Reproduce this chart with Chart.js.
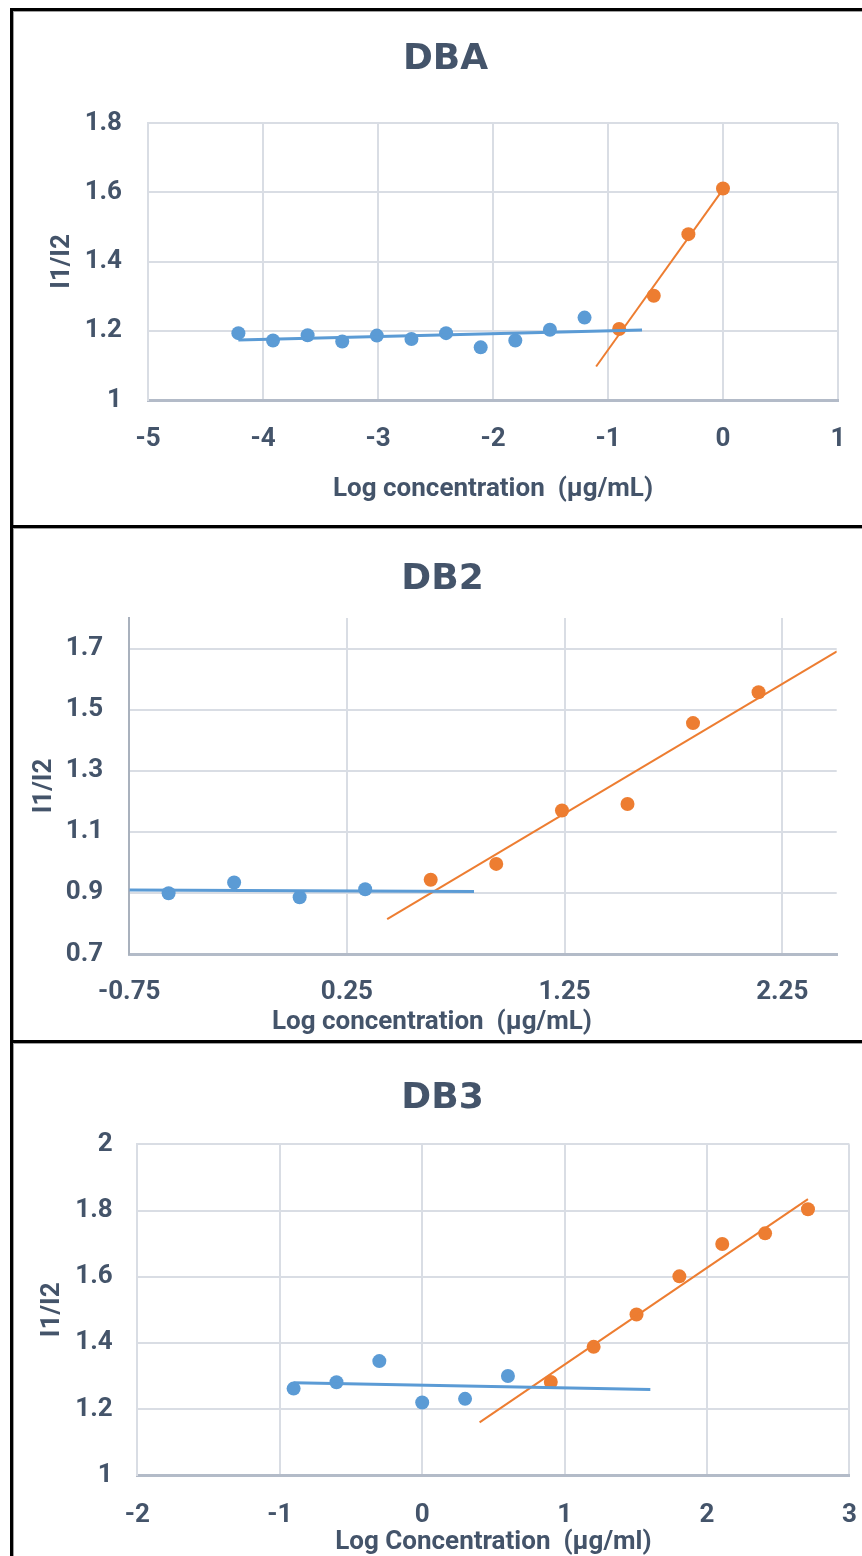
<!DOCTYPE html>
<html>
<head>
<meta charset="utf-8">
<title>Pyrene I1/I2 ratio vs log concentration</title>
<script src="https://cdn.jsdelivr.net/npm/chart.js@4/dist/chart.umd.min.js"></script>
<style>
  html, body { margin: 0; padding: 0; background: #fff; overflow: hidden; }
  body { width: 862px; height: 1556px; position: relative; }
  canvas { position: absolute; }
  .rule { position: absolute; background: #000; z-index: 2; }
  .shade { position: absolute; background: #a0a0a0; z-index: 1; }
</style>
</head>
<body>
<canvas id="dba"></canvas>
<canvas id="db2"></canvas>
<canvas id="db3"></canvas>

<!-- panel frame -->
<div class="rule"  style="left:10px; top:8px;    width:852px; height:3px"></div>
<div class="shade" style="left:12px; top:11px;   width:850px; height:1px"></div>
<div class="rule"  style="left:10px; top:525px;  width:852px; height:3px"></div>
<div class="shade" style="left:12px; top:528px;  width:850px; height:1px"></div>
<div class="rule"  style="left:10px; top:1040px; width:852px; height:3px"></div>
<div class="shade" style="left:12px; top:1043px; width:850px; height:1px"></div>
<div class="rule"  style="left:10px; top:8px;    width:3px;   height:1548px"></div>
<div class="shade" style="left:13px; top:11px;   width:1px;   height:1545px"></div>

<script>
// ---------- DBA ----------
const dbaBlueX   = [-4.214, -3.913, -3.612, -3.311, -3.010, -2.709, -2.408, -2.107, -1.806, -1.505, -1.204];
const dbaBlueY   = [1.193, 1.172, 1.187, 1.169, 1.186, 1.176, 1.193, 1.152, 1.172, 1.203, 1.238];
const dbaOrangeX = [-0.903, -0.602, -0.301, 0];
const dbaOrangeY = [1.205, 1.301, 1.479, 1.611];
const dbaXTicks  = [-5, -4, -3, -2, -1, 0, 1];
const dbaXLabels = ['-5', '-4', '-3', '-2', '-1', '0', '1'];
const dbaYTicks  = [1, 1.2, 1.4, 1.6, 1.8];
const dbaYLabels = ['1', '1.2', '1.4', '1.6', '1.8'];
// trendline forecast (backward, forward) in log units
const dbaBlueTrend   = [0, 0.5];
const dbaOrangeTrend = [0.2, 0];

// ---------- DB2 ----------
const db2BlueX   = [-0.569, -0.268, 0.033, 0.334];
const db2BlueY   = [0.899, 0.934, 0.886, 0.912];
const db2OrangeX = [0.635, 0.936, 1.238, 1.539, 1.840, 2.141];
const db2OrangeY = [0.943, 0.995, 1.170, 1.191, 1.456, 1.557];
const db2XTicks  = [-0.75, 0.25, 1.25, 2.25];
const db2XLabels = ['-0.75', '0.25', '1.25', '2.25'];
const db2YTicks  = [0.7, 0.9, 1.1, 1.3, 1.5, 1.7];
const db2YLabels = ['0.7', '0.9', '1.1', '1.3', '1.5', '1.7'];
const db2BlueTrend   = [0.18, 0.5];
const db2OrangeTrend = [0.2, 0.36];

// ---------- DB3 ----------
const db3BlueX   = [-0.903, -0.602, -0.301, 0, 0.301, 0.602];
const db3BlueY   = [1.262, 1.281, 1.345, 1.220, 1.231, 1.300];
const db3OrangeX = [0.903, 1.204, 1.505, 1.806, 2.107, 2.408, 2.709];
const db3OrangeY = [1.282, 1.388, 1.486, 1.601, 1.699, 1.731, 1.804];
const db3XTicks  = [-2, -1, 0, 1, 2, 3];
const db3XLabels = ['-2', '-1', '0', '1', '2', '3'];
const db3YTicks  = [1, 1.2, 1.4, 1.6, 1.8, 2];
const db3YLabels = ['1', '1.2', '1.4', '1.6', '1.8', '2'];
const db3BlueTrend   = [0, 1.0];
const db3OrangeTrend = [0.5, 0];

const BLUE = '#5B9BD5';
const ORANGE = '#ED7D31';
const TEXT = '#44546A';
const GRID = '#d9dde4';
const AXIS = '#b3bbc8';

// least-squares linear fit
function fit(xs, ys) {
  const n = xs.length;
  const mx = xs.reduce((a, b) => a + b, 0) / n;
  const my = ys.reduce((a, b) => a + b, 0) / n;
  let sxy = 0, sxx = 0;
  for (let i = 0; i < n; i++) { sxy += (xs[i] - mx) * (ys[i] - my); sxx += (xs[i] - mx) ** 2; }
  const m = sxy / sxx;
  return { m, b: my - m * mx };
}
function trendPoints(xs, ys, span) {
  const f = fit(xs, ys);
  const x0 = Math.min(...xs) - span[0];
  const x1 = Math.max(...xs) + span[1];
  return [{ x: x0, y: f.m * x0 + f.b }, { x: x1, y: f.m * x1 + f.b }];
}
function points(xs, ys) { return xs.map((x, i) => ({ x, y: ys[i] })); }

// lets an axis title sit off the axis centre
const axisTitleShift = {
  id: 'axisTitleShift',
  afterLayout(chart, args, opts) {
    const s = chart.scales.x;
    const dx = opts.dx || 0;
    if (!dx || s.$shiftApplied) return;
    s.$shiftApplied = true;
    const base = s.drawTitle;
    s.drawTitle = function () {
      this.left += dx; this.right += dx;
      base.call(this);
      this.left -= dx; this.right -= dx;
    };
  }
};

const tickFont  = { family: 'Roboto', weight: 'bold', size: 26 };
const axisFont  = { family: 'Roboto', weight: 'bold', size: 26, lineHeight: 1 };
const titleFont = { family: 'DejaVu Sans', weight: 'bold', size: 36, lineHeight: 1 };

function makePanel(p) {
  const cv = document.getElementById(p.id);
  cv.width = p.w; cv.height = p.h;
  cv.style.left = p.left + 'px';
  cv.style.top = p.top + 'px';

  new Chart(cv, {
    type: 'scatter',
    data: {
      datasets: [
        { data: trendPoints(p.blueX, p.blueY, p.blueTrend), showLine: true,
          borderColor: BLUE, borderWidth: 3, pointRadius: 0, fill: false },
        { data: trendPoints(p.orangeX, p.orangeY, p.orangeTrend), showLine: true,
          borderColor: ORANGE, borderWidth: 2, pointRadius: 0, fill: false },
        { data: points(p.blueX, p.blueY), backgroundColor: BLUE, borderColor: BLUE,
          borderWidth: 0, pointRadius: 7 },
        { data: points(p.orangeX, p.orangeY), backgroundColor: ORANGE, borderColor: ORANGE,
          borderWidth: 0, pointRadius: 7 }
      ]
    },
    plugins: [axisTitleShift],
    options: {
      responsive: false,
      animation: false,
      events: [],
      layout: { padding: { left: p.padL, right: p.padR, top: 0, bottom: 0 } },
      plugins: {
        legend: { display: false },
        tooltip: { enabled: false },
        axisTitleShift: { dx: p.xTitleShift || 0 },
        title: {
          display: true, text: p.title, color: TEXT, font: titleFont,
          padding: { top: p.titleTop, bottom: p.titleBottom }
        }
      },
      scales: {
        x: {
          type: 'linear', position: 'bottom', min: p.xMin, max: p.xMax,
          afterBuildTicks: a => { a.ticks = p.xTicks.map(v => ({ value: v })); },
          afterFit: s => { s.height = p.xAxisH; s.paddingLeft = 0; s.paddingRight = 0; },
          ticks: { autoSkip: false, maxRotation: 0, minRotation: 0, padding: p.xTickPad,
                   color: TEXT, font: tickFont, callback: (v, i) => p.xLabels[i] },
          grid: { color: GRID, lineWidth: 2, drawTicks: false },
          border: { color: AXIS, width: 3 },
          title: { display: true, text: p.xTitle, color: TEXT, font: axisFont,
                   padding: { top: 0, bottom: p.xTitlePad } }
        },
        y: {
          type: 'linear', position: 'left', min: p.yMin, max: p.yMax,
          afterBuildTicks: a => { a.ticks = p.yTicks.map(v => ({ value: v })); },
          afterFit: s => { s.width = p.yAxisW; s.paddingTop = 0; s.paddingBottom = 0; },
          ticks: { autoSkip: false, padding: p.yTickPad, color: TEXT, font: tickFont,
                   callback: (v, i) => p.yLabels[i] },
          grid: { color: GRID, lineWidth: 2, drawTicks: false },
          border: { color: p.yBorder, width: 2 },
          title: { display: true, text: 'I1/I2', color: TEXT, font: axisFont,
                   padding: { top: p.yTitlePad, bottom: 0 } }
        }
      }
    }
  });
}

function build() {
  makePanel({
    id: 'dba', left: 12, top: 11, w: 850, h: 514,
    padL: 41, padR: 24, yAxisW: 95, xAxisH: 125,
    title: 'DBA', titleTop: 30.4, titleBottom: 45.6,
    xMin: -5, xMax: 1, yMin: 1, yMax: 1.8,
    xTicks: dbaXTicks, xLabels: dbaXLabels, yTicks: dbaYTicks, yLabels: dbaYLabels,
    xTickPad: 24, yTickPad: 26, xTitlePad: 22.8, yTitlePad: -4,
    xTitle: 'Log concentration  (\u00b5g/mL)', yBorder: GRID,
    blueX: dbaBlueX, blueY: dbaBlueY, orangeX: dbaOrangeX, orangeY: dbaOrangeY,
    blueTrend: dbaBlueTrend, orangeTrend: dbaOrangeTrend
  });
  makePanel({
    id: 'db2', left: 12, top: 528, w: 849, h: 512,
    padL: 36.3, padR: 24.3, yAxisW: 80.9, xAxisH: 86,
    title: 'DB2', titleTop: 33.9, titleBottom: 20.1,
    xMin: -0.75, xMax: 2.5, yMin: 0.7, yMax: 1.8,
    xTicks: db2XTicks, xLabels: db2XLabels, yTicks: db2YTicks, yLabels: db2YLabels,
    xTickPad: 23, yTickPad: 26, xTitlePad: 4.3, yTitlePad: -16.8, xTitleShift: -51,
    xTitle: 'Log concentration  (\u00b5g/mL)', yBorder: '#a9b1bd',
    blueX: db2BlueX, blueY: db2BlueY, orangeX: db2OrangeX, orangeY: db2OrangeY,
    blueTrend: db2BlueTrend, orangeTrend: db2OrangeTrend
  });
  makePanel({
    id: 'db3', left: 12, top: 1044, w: 862, h: 512,
    padL: 23.6, padR: 24.6, yAxisW: 101.8, xAxisH: 80.7,
    title: 'DB3', titleTop: 36.2, titleBottom: 28.1,
    xMin: -2, xMax: 3, yMin: 1, yMax: 2,
    xTicks: db3XTicks, xLabels: db3XLabels, yTicks: db3YTicks, yLabels: db3YLabels,
    xTickPad: 25, yTickPad: 24.7, xTitlePad: 0.3, yTitlePad: 3.4,
    xTitle: 'Log Concentration  (\u00b5g/ml)', yBorder: GRID,
    blueX: db3BlueX, blueY: db3BlueY, orangeX: db3OrangeX, orangeY: db3OrangeY,
    blueTrend: db3BlueTrend, orangeTrend: db3OrangeTrend
  });
}

const fontsReady = document.fonts && document.fonts.load
  ? Promise.all([document.fonts.load('bold 26px Roboto'), document.fonts.load('bold 36px "DejaVu Sans"')])
  : Promise.resolve();
fontsReady.then(build, build);
</script>
</body>
</html>
